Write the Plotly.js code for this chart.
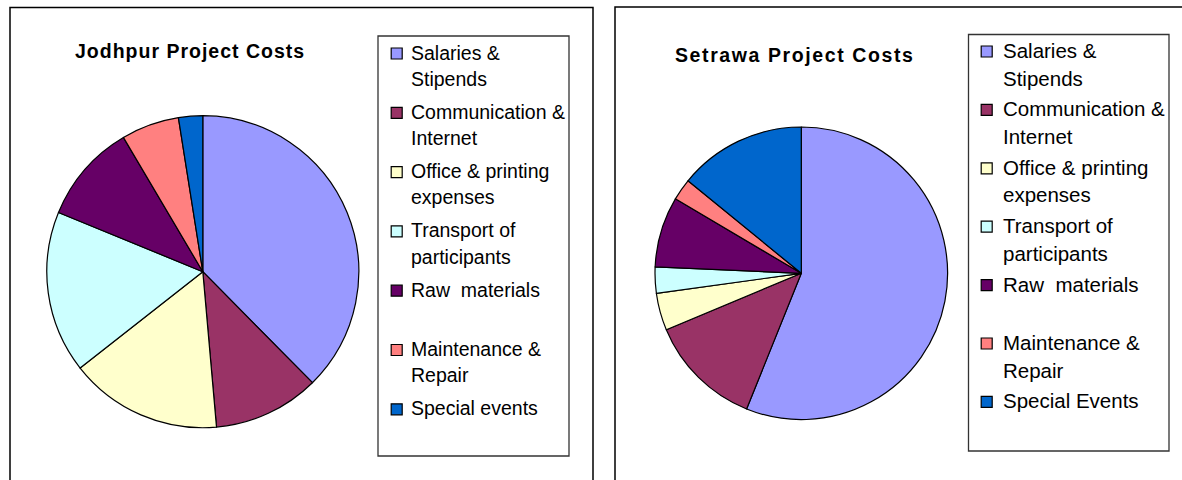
<!DOCTYPE html>
<html><head><meta charset="utf-8">
<script src="https://cdn.plot.ly/plotly-3.0.1.min.js"></script>
<style>html,body{margin:0;padding:0;background:#fff;}#chart{width:1182px;height:480px;}</style>
</head><body><div id="chart"></div>
<script>
// ---- data ----
const categoriesJodhpur = ['Salaries &<br>Stipends','Communication &<br>Internet','Office & printing<br>expenses','Transport of<br>participants','Raw\u00a0 materials','Maintenance &<br>Repair','Special events'];
const valuesJodhpur = [37.6, 11.0, 15.8, 16.8, 10.3, 6.0, 2.5];
const categoriesSetrawa = ['Salaries &<br>Stipends','Communication &<br>Internet','Office & printing<br>expenses','Transport of<br>participants','Raw\u00a0 materials','Maintenance &<br>Repair','Special Events'];
const valuesSetrawa = [56.1, 12.6, 4.1, 2.9, 7.8, 2.4, 14.1];
const sliceColors = ['#9999FF','#993366','#FFFFCC','#CCFFFF','#660066','#FF8080','#0066CC'];
const chartTitles = ['Jodhpur Project Costs','Setrawa Project Costs'];

// ---- layout geometry (pixels) ----
const W = 1182, H = 480;
const px = x => x / W, py = y => 1 - y / H;
const FONT = 'Liberation Sans, Arial, Helvetica, sans-serif';
const panels = [
  {cats: categoriesJodhpur, vals: valuesJodhpur, title: chartTitles[0],
   cx: 202.8, cy: 271.7, r: 156, frame: [10, 7.5, 593, 495], box: [378, 36, 569, 456],
   symX: 396.7, textX: 409, firstY: 52.5, pitch: 59.3, lineGap: 26.3, fontSize: 19.5,
   titleX: 190, titleY: 51, titleSpacing: 1.0},
  {cats: categoriesSetrawa, vals: valuesSetrawa, title: chartTitles[1],
   cx: 801.3, cy: 273.3, r: 146.3, frame: [615, 7, 1195, 495], box: [968.5, 34.5, 1169, 451],
   symX: 986.7, textX: 1000.5, firstY: 50.5, pitch: 58.4, lineGap: 27.6, fontSize: 20.5,
   titleX: 795, titleY: 55, titleSpacing: 1.6}
];

const traces = [], shapes = [], annotations = [];
panels.forEach((p, k) => {
  traces.push({
    type: 'pie', labels: p.cats, values: p.vals, sort: false, direction: 'clockwise', rotation: 0,
    marker: {colors: sliceColors, line: {color: '#000', width: 1.2}},
    textinfo: 'none', hoverinfo: 'label+percent', showlegend: false,
    domain: {x: [px(p.cx - p.r), px(p.cx + p.r)], y: [py(p.cy + p.r), py(p.cy - p.r)]}
  });
  // panel frame
  shapes.push({type: 'rect', xref: 'paper', yref: 'paper', x0: px(p.frame[0]), x1: px(p.frame[2]),
    y0: py(p.frame[3]), y1: py(p.frame[1]), line: {color: '#000', width: 1.5}, fillcolor: 'rgba(0,0,0,0)'});
  // legend box
  shapes.push({type: 'rect', xref: 'paper', yref: 'paper', x0: px(p.box[0]), x1: px(p.box[2]),
    y0: py(p.box[3]), y1: py(p.box[1]), line: {color: '#333', width: 1.3}, fillcolor: 'rgba(0,0,0,0)'});
  // title
  annotations.push({xref: 'paper', yref: 'paper', x: px(p.titleX), y: py(p.titleY), showarrow: false,
    xanchor: 'center', yanchor: 'middle',
    text: '<b><span style="letter-spacing:' + p.titleSpacing + 'px">' + p.title + '</span></b>',
    font: {family: FONT, size: 19.5, color: '#000'}});
  // legend entries
  p.cats.forEach((c, i) => {
    const y0 = p.firstY + i * p.pitch;
    shapes.push({type: 'rect', xref: 'paper', yref: 'paper',
      x0: px(p.symX - 5.5), x1: px(p.symX + 5.5), y0: py(y0 + 6.5), y1: py(y0 - 4.5),
      fillcolor: sliceColors[i], line: {color: '#000', width: 1.2}});
    c.split('<br>').forEach((line, j) => {
      annotations.push({xref: 'paper', yref: 'paper', x: px(p.textX), y: py(y0 + j * p.lineGap),
        showarrow: false, xanchor: 'left', yanchor: 'middle', text: line,
        font: {family: FONT, size: p.fontSize, color: '#000'}});
    });
  });
});

Plotly.newPlot('chart', traces, {
  width: W, height: H, margin: {l: 0, r: 0, t: 0, b: 0},
  paper_bgcolor: '#fff', plot_bgcolor: '#fff', showlegend: false,
  shapes: shapes, annotations: annotations
}, {displayModeBar: false, staticPlot: false});
</script>
</body></html>
